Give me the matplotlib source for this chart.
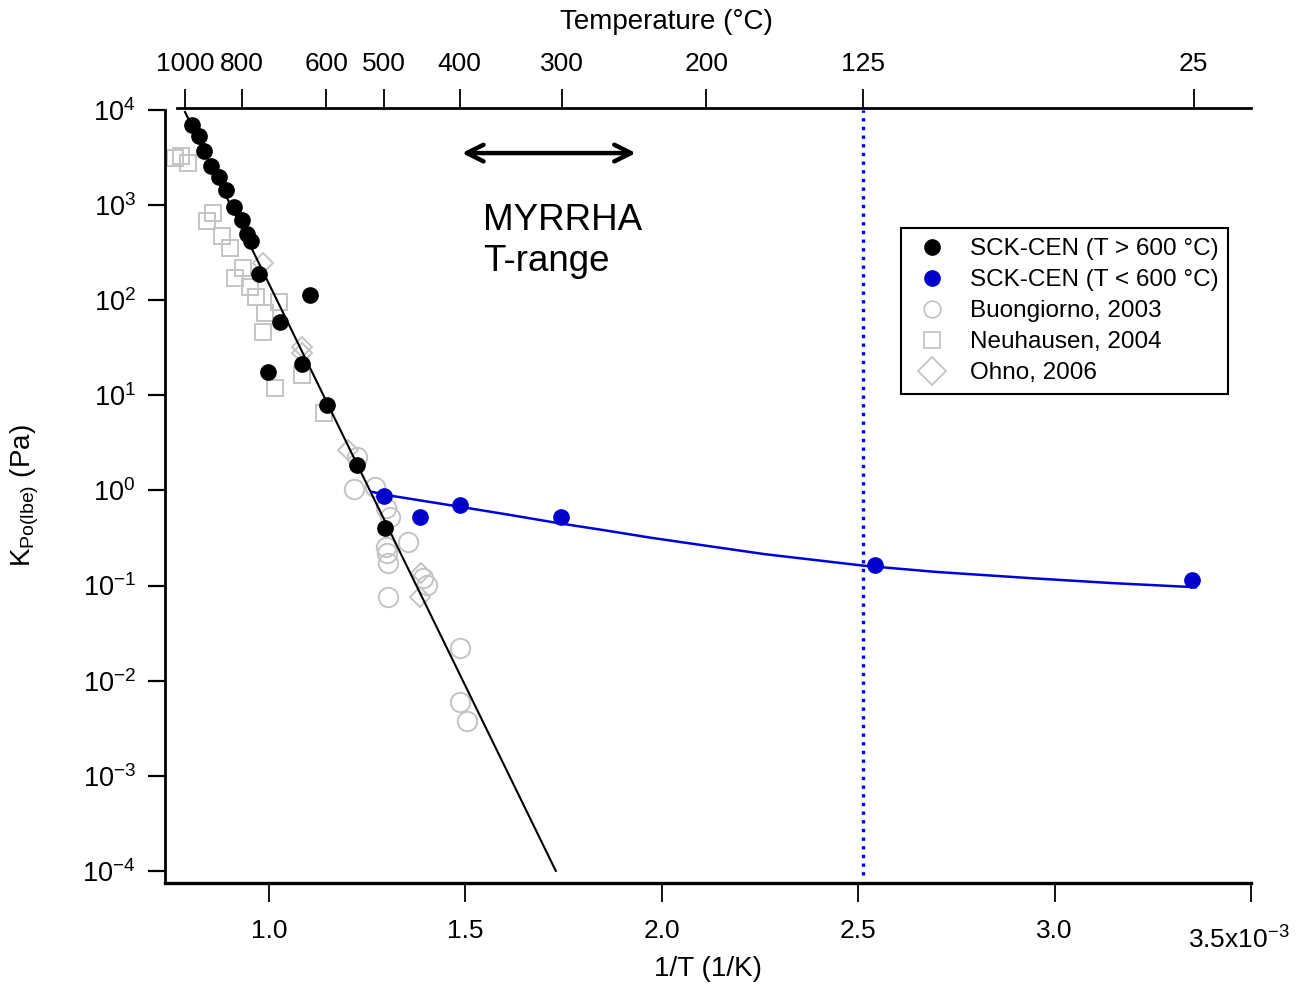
"""Po partial pressure over LBE vs inverse temperature, with Celsius top axis."""

import matplotlib
matplotlib.use("Agg")
import matplotlib.pyplot as plt
from matplotlib.lines import Line2D
from matplotlib.ticker import LogLocator, LogFormatterMathtext, NullLocator
import matplotlib.transforms as mtransforms

plt.rcParams["font.family"] = ["Liberation Sans", "DejaVu Sans"]
plt.rcParams["mathtext.fontset"] = "custom"
plt.rcParams["mathtext.rm"] = "Liberation Sans"
plt.rcParams["mathtext.it"] = "Liberation Sans:italic"

# SCK-CEN, T > 600 C  (1/T in 1e-3 1/K, K in Pa)
hi_x = [0.803, 0.822, 0.835, 0.853, 0.872, 0.891, 0.910, 0.931, 0.945, 0.954,
        0.975, 1.105, 1.028, 1.083, 0.998, 1.148, 1.224, 1.295]
hi_k = [6950, 5370, 3730, 2580, 1980, 1440, 948, 697, 493, 423,
        187, 113, 59.4, 21.2, 17.7, 7.9, 1.85, 0.40]

# SCK-CEN, T < 600 C
lo_x = [1.293, 1.384, 1.486, 1.743, 2.542, 3.351]
lo_k = [0.873, 0.521, 0.703, 0.525, 0.164, 0.114]

# Buongiorno, 2003
buo_x = [1.223, 1.216, 1.270, 1.299, 1.308, 1.354, 1.299, 1.301, 1.304,
         1.401, 1.392, 1.304, 1.486, 1.486, 1.505]
buo_k = [2.26, 1.03, 1.09, 0.65, 0.52, 0.289, 0.256, 0.218, 0.171,
         0.101, 0.12, 0.076, 0.0219, 0.0060, 0.0038]

# Neuhausen, 2004
neu_x = [0.761, 0.776, 0.794, 0.858, 0.842, 0.880, 0.901, 0.934, 0.913,
         0.952, 0.967, 1.025, 0.990, 0.985, 1.084, 1.015, 1.140]
neu_k = [3130, 3280, 2770, 826, 681, 473, 354, 218, 171,
         138, 108, 95.7, 73.3, 46.3, 16.3, 11.9, 6.5]

# Ohno, 2006
ohn_x = [0.985, 1.083, 1.083, 1.202, 1.386, 1.384]
ohn_k = [244, 32.4, 27.9, 2.66, 0.134, 0.076]

# fitted lines
fit_hi_x = [0.786, 1.730]
fit_hi_k = [9550, 1.0e-4]
fit_lo_x = [1.261, 1.316, 1.486, 1.600, 1.740, 1.850, 1.969, 2.100, 2.262,
            2.513, 2.700, 2.948, 3.150, 3.359]
fit_lo_k = [0.968, 0.873, 0.674, 0.565, 0.451, 0.384, 0.320, 0.267, 0.214,
            0.162, 0.139, 0.119, 0.106, 0.096]

top_temps = [1000, 800, 600, 500, 400, 300, 200, 125, 25]
bottom_ticks = [1.0, 1.5, 2.0, 2.5, 3.0, 3.5]
bottom_labels = ["1.0", "1.5", "2.0", "2.5", "3.0", ""]

MYRRHA_X = [1.491, 1.934]
LIMIT_T = 125

BLUE = "#0000cc"
GRAY = "#c4c4c4"

fig = plt.figure(figsize=(13.03, 9.84), dpi=100)
ax = fig.add_axes([0.1266, 0.1026, 0.8335, 0.7876])

ax.set_yscale("log")
ax.set_xlim(0.735, 3.5)
ax.set_ylim(7.45e-5, 1.05e4)

ax.plot(buo_x, buo_k, "o", ms=14, mfc="none", mec=GRAY, mew=1.4, zorder=2)
ax.plot(neu_x, neu_k, "s", ms=11.5, mfc="none", mec=GRAY, mew=1.4, zorder=2)
ax.plot(ohn_x, ohn_k, "D", ms=10.5, mfc="none", mec=GRAY, mew=1.4, zorder=2)

ax.plot(fit_hi_x, fit_hi_k, "-", color="black", lw=1.5, zorder=3)
ax.plot(fit_lo_x, fit_lo_k, "-", color="#0000dd", lw=1.8, zorder=3)

ax.plot(hi_x, hi_k, "o", ms=11, color="black", zorder=4)
ax.plot(lo_x, lo_k, "o", ms=11, color=BLUE, zorder=4)

t_lim = 1000.0 / (LIMIT_T + 273.15)
ax.plot([t_lim, t_lim], [0.9e-4, 1.0e4], color="#0000ff", lw=2.4,
        ls=(0, (1, 1.6)), zorder=3)

# MYRRHA range arrow
ax.annotate("", xy=(MYRRHA_X[0], 3530), xytext=(MYRRHA_X[1], 3530),
            arrowprops=dict(arrowstyle="<->", lw=3.2, color="black",
                            mutation_scale=30, shrinkA=0, shrinkB=0))
ax.text(1.545, 1060, "MYRRHA\nT-range", fontsize=26.5, ha="left", va="top",
        linespacing=1.22)

# axes styling
for side in ["right", "top"]:
    ax.spines[side].set_visible(False)
ax.spines["left"].set_linewidth(2.0)
ax.spines["bottom"].set_linewidth(2.4)
ax.spines["left"].set_bounds(7.45e-5, 1.0e4)

ax.yaxis.set_major_locator(LogLocator(base=10, numticks=20))
ax.yaxis.set_minor_locator(NullLocator())
ax.yaxis.set_major_formatter(LogFormatterMathtext())
ax.tick_params(axis="y", which="major", direction="out", length=12,
               width=1.6, labelsize=19.5, pad=9)
ax.set_xticks(bottom_ticks)
ax.set_xticklabels(bottom_labels)
ax.tick_params(axis="x", which="major", direction="out", length=14,
               width=1.3, labelsize=19, pad=12)
ax.xaxis.set_minor_locator(NullLocator())

trans = mtransforms.blended_transform_factory(ax.transData, ax.transAxes)
ax.text(3.47, -0.074, r"3.5x10$^{-3}$", transform=trans, fontsize=19,
        ha="center", va="center")

ax.set_xlabel("1/T (1/K)", fontsize=20, labelpad=9)
ax.set_ylabel(r"K$_{\mathregular{Po(lbe)}}$ (Pa)", fontsize=20, labelpad=30)

# top temperature axis
top = ax.twiny()
top.set_xlim(ax.get_xlim())
for side in ["right", "left", "bottom"]:
    top.spines[side].set_visible(False)
top.spines["top"].set_linewidth(2.0)
top.spines["top"].set_bounds(0.766, 3.5)
top.set_xticks([1000.0 / (t + 273.15) for t in top_temps])
top.set_xticklabels([str(t) for t in top_temps])
top.xaxis.set_minor_locator(NullLocator())
top.tick_params(axis="x", direction="out", length=14, width=1.3,
                labelsize=19, pad=9)
fig.text(666 / 1303, 1 - 22 / 984, "Temperature (°C)", fontsize=20,
         ha="center", va="center")

handles = [
    Line2D([], [], ls="none", marker="o", ms=11, color="black"),
    Line2D([], [], ls="none", marker="o", ms=11, color=BLUE),
    Line2D([], [], ls="none", marker="o", ms=12, mfc="none", mec=GRAY, mew=1.3),
    Line2D([], [], ls="none", marker="s", ms=12, mfc="none", mec=GRAY, mew=1.3),
    Line2D([], [], ls="none", marker="D", ms=14, mfc="none", mec=GRAY, mew=1.3),
]
labels = ["SCK-CEN (T > 600 °C)", "SCK-CEN (T < 600 °C)", "Buongiorno, 2003",
          "Neuhausen, 2004", "Ohno, 2006"]
leg = ax.legend(handles, labels, loc="upper left",
                bbox_to_anchor=(901 / 1303, 1 - 228 / 984),
                bbox_transform=fig.transFigure, borderaxespad=0,
                fontsize=17.5, frameon=True, fancybox=False, framealpha=1,
                handletextpad=0.7, labelspacing=0.37, borderpad=0.42,
                handlelength=1.7)
leg.get_frame().set_edgecolor("black")
leg.get_frame().set_linewidth(1.5)

fig.savefig("out.png", dpi=100)
plt.close(fig)
